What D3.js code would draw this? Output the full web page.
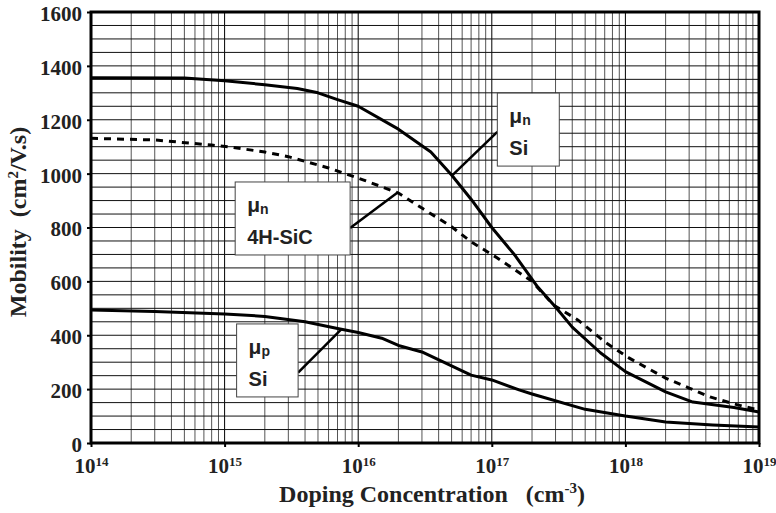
<!DOCTYPE html>
<html><head><meta charset="utf-8">
<script src="https://cdn.jsdelivr.net/npm/d3@7"></script>
<style>
html,body{margin:0;padding:0;background:#fff;}
svg text{white-space:pre;}
</style></head>
<body><svg id="c" width="776" height="513"></svg>
<script>
// ---- data ----
const xDecades = [1e14, 1e15, 1e16, 1e17, 1e18, 1e19];
const yTicks = [0, 200, 400, 600, 800, 1000, 1200, 1400, 1600];

const siElectronN  = [1e14,5e14,1e15,2e15,3.5e15,5e15,7e15,1e16,2e16,3.5e16,5e16,7e16,1e17,1.5e17,2.2e17,3e17,4e17,6.5e17,1e18,2e18,3.2e18,6.5e18,1e19];
const siElectronMu = [1356,1355,1345,1330,1316,1300,1275,1250,1165,1080,995,905,800,695,580,505,430,335,265,190,152,132,115];

const sicElectronN  = [1e14,3e14,8e14,1.1e15,2e15,3e15,6e15,1.1e16,2e16,3e16,5e16,7e16,1.1e17,1.5e17,2e17,2.9e17,4.4e17,7.2e17,1.07e18,2e18,3e18,4.3e18,6.5e18,1e19];
const sicElectronMu = [1131,1125,1106,1099,1080,1063,1021,976,928,872,803,747,687,642,600,512,457,371,315,241,204,171,145,122];

const siHoleN  = [1e14,3e14,1e15,2e15,4e15,7e15,1e16,1.5e16,2e16,3e16,7e16,1e17,1.6e17,2e17,5e17,9e17,1e18,2e18,4.5e18,1e19];
const siHoleMu = [494,488,479,470,450,425,410,389,362,338,252,234,197,182,125,104,100,78,67,59];

const boxSub  = ["n", "n", "p"];
const boxName = ["4H-SiC", "Si", "Si"];
// box extents and leader ends, in data units (N, mobility)
const boxN0  = [1.2e15, 1.1e17, 1.23e15];
const boxN1  = [8.7e15, 3.2e17, 3.55e15];
const boxMuTop = [969, 1299, 442];
const boxMuBot = [698, 1028, 171];
const leaderFromMu = [798, 1155, 261];
const leaderToN  = [1.95e16, 5.1e16, 7.5e15];
const leaderToMu = [928, 995, 423];
const leaderSide = ["right", "left", "right"];

// ---- layout ----
const L = 91, R = 759, T = 12, B = 443;
const svg = d3.select("#c");
const x = d3.scaleLog().domain([1e14, 1e19]).range([L, R]);
const y = d3.scaleLinear().domain([0, 1600]).range([B, T]);
const serif = "'Liberation Serif','Times New Roman',serif";
const sans = "'Liberation Sans',Arial,sans-serif";

// grid: minor vertical lines
const minor = [];
for (let e = 14; e < 19; e++) for (let k = 2; k <= 9; k++) minor.push(k * Math.pow(10, e));
svg.append("g").selectAll("line").data(minor).join("line")
  .attr("x1", d => x(d)).attr("x2", d => x(d)).attr("y1", T).attr("y2", B)
  .attr("stroke", "#555").attr("stroke-width", 1);
svg.append("g").selectAll("line").data(xDecades).join("line")
  .attr("x1", d => x(d)).attr("x2", d => x(d)).attr("y1", T).attr("y2", B)
  .attr("stroke", "#000").attr("stroke-width", 1);
// horizontal grid every 50
svg.append("g").selectAll("line").data(d3.range(0, 1601, 50)).join("line")
  .attr("x1", L).attr("x2", R).attr("y1", d => y(d)).attr("y2", d => y(d))
  .attr("stroke", "#111").attr("stroke-width", 1);

// curves
const line = d3.line().x(d => x(d[0])).y(d => y(d[1]));
svg.append("path").datum(d3.zip(siElectronN, siElectronMu)).attr("d", line)
  .attr("fill", "none").attr("stroke", "#000").attr("stroke-width", 3).attr("stroke-linejoin", "round");
svg.append("path").datum(d3.zip(sicElectronN, sicElectronMu)).attr("d", line)
  .attr("fill", "none").attr("stroke", "#000").attr("stroke-width", 3).attr("stroke-dasharray", "7,6");
svg.append("path").datum(d3.zip(siHoleN, siHoleMu)).attr("d", line)
  .attr("fill", "none").attr("stroke", "#000").attr("stroke-width", 3).attr("stroke-linejoin", "round");

// annotation boxes
boxName.forEach((name, i) => {
  const bx0 = x(boxN0[i]), bx1 = x(boxN1[i]), by0 = y(boxMuTop[i]), by1 = y(boxMuBot[i]);
  const lx = leaderSide[i] === "right" ? bx1 : bx0;
  svg.append("line").attr("x1", lx).attr("y1", y(leaderFromMu[i]))
    .attr("x2", x(leaderToN[i])).attr("y2", y(leaderToMu[i]))
    .attr("stroke", "#000").attr("stroke-width", 2.5);
  svg.append("rect").attr("x", bx0).attr("y", by0).attr("width", bx1 - bx0).attr("height", by1 - by0)
    .attr("fill", "#fff").attr("stroke", "#444").attr("stroke-width", 1);
  const t1 = svg.append("text").attr("x", bx0 + 12).attr("y", by0 + 30)
    .attr("font-family", sans).attr("font-weight", "bold").attr("font-size", 21).attr("fill", "#222");
  t1.append("tspan").text("\u03bc");
  t1.append("tspan").attr("dy", 2).attr("font-size", 14).text(boxSub[i]);
  svg.append("text").attr("x", bx0 + 12).attr("y", by0 + 62)
    .attr("font-family", sans).attr("font-weight", "bold").attr("font-size", 20).attr("fill", "#222")
    .text(name);
});

// axes
const yAxis = svg.append("g").attr("transform", `translate(${L},0)`)
  .call(d3.axisLeft(y).tickValues(yTicks).tickSize(4).tickPadding(5).tickFormat(d3.format("d")));
yAxis.select(".domain").remove();
yAxis.selectAll(".tick line").attr("stroke", "#000").attr("stroke-width", 2);
yAxis.selectAll(".tick text").attr("font-family", serif).attr("font-weight", "bold")
  .attr("font-size", 21).attr("fill", "#222").attr("dy", "0.4em");

const xAxis = svg.append("g").attr("transform", `translate(0,${B})`)
  .call(d3.axisBottom(x).tickValues(xDecades).tickSize(4).tickFormat(""));
xAxis.select(".domain").remove();
xAxis.selectAll(".tick line").attr("stroke", "#000").attr("stroke-width", 2);
xAxis.selectAll(".tick").append("text")
  .attr("y", 30).attr("text-anchor", "middle").attr("fill", "#222")
  .attr("font-family", serif).attr("font-weight", "bold").attr("font-size", 21)
  .each(function(d) {
    const t = d3.select(this);
    t.append("tspan").text("10");
    t.append("tspan").attr("dy", -7).attr("font-size", 13).text(String(Math.round(Math.log10(d))));
  });

// frame
svg.append("rect").attr("x", L).attr("y", T).attr("width", R - L).attr("height", B - T)
  .attr("fill", "none").attr("stroke", "#000").attr("stroke-width", 3);

// axis titles
const yt = svg.append("text").attr("transform", `translate(26,222) rotate(-90)`)
  .attr("text-anchor", "middle").attr("font-family", serif).attr("font-weight", "bold")
  .attr("font-size", 24).attr("fill", "#222");
yt.append("tspan").text("Mobility  (cm");
yt.append("tspan").attr("dy", -8).attr("font-size", 15).text("2");
yt.append("tspan").attr("dy", 8).text("/V.s)");

const xt = svg.append("text").attr("x", 432).attr("y", 502)
  .attr("text-anchor", "middle").attr("font-family", serif).attr("font-weight", "bold")
  .attr("font-size", 24).attr("fill", "#222");
xt.append("tspan").text("Doping Concentration   (cm");
xt.append("tspan").attr("dy", -9).attr("font-size", 15).text("-3");
xt.append("tspan").attr("dy", 9).text(")");
</script></body></html>
